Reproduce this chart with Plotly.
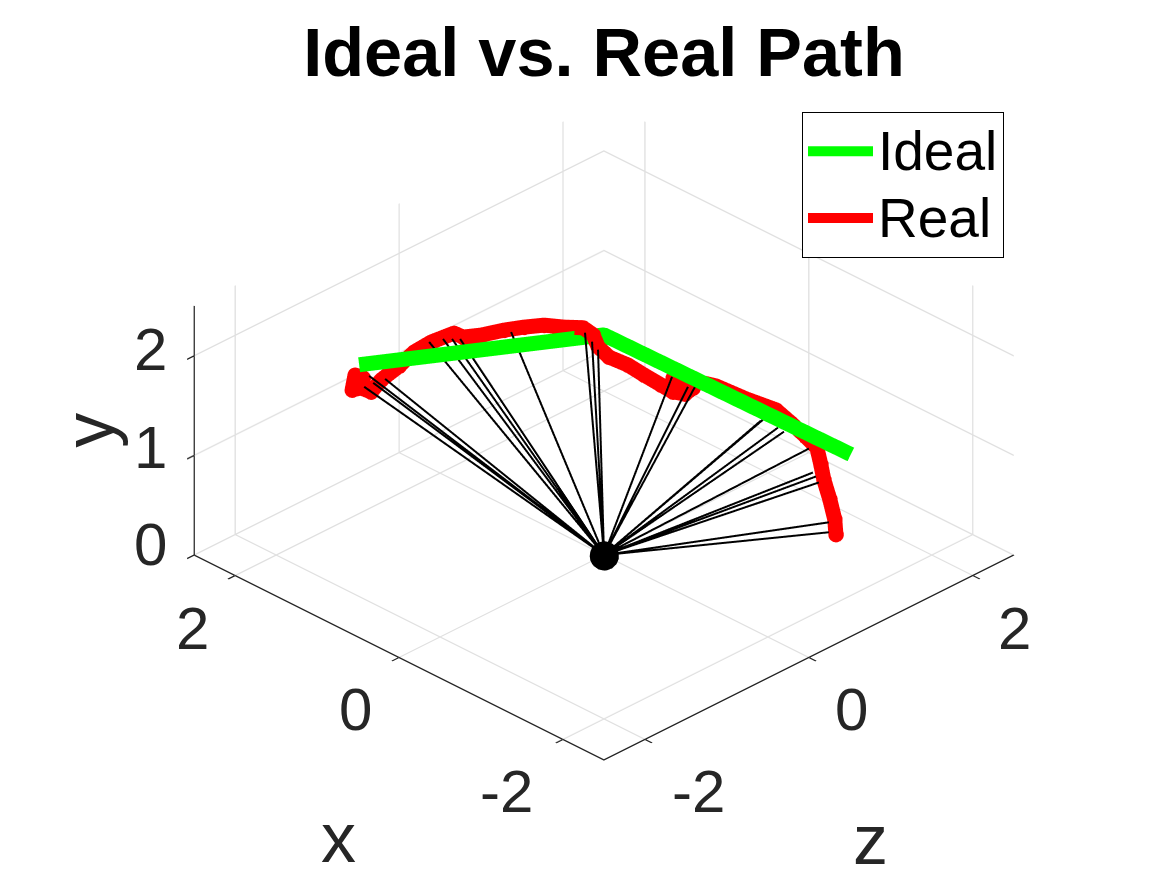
import plotly.graph_objects as go

ideal_x = [1.494, 0.0, -1.506]
ideal_y = [1.91, 2.21, 1.01]
ideal_z = [-1.494, 0.0, 1.506]

real_x = [-1.215,-1.208,-1.178,-1.141,-1.123,-1.099,-1.032,-.940,-.849,-.666,-.483,-.379,-.221,-.343,-.294,-.221,-.148,-.044,.054,.170,-.064,-.033,.028,.444,.566,.688,.810,.950,1.060,1.115,1.255,1.359,1.45,1.56,1.621,1.682,1.737,1.719,1.670]
real_y = [.043,.193,.393,.593,.743,.913,1.023,1.163,1.293,1.403,1.533,1.573,1.613,1.513,1.453,1.473,1.543,1.643,1.743,1.823,2.174,2.294,2.364,2.123,2.143,2.123,2.093,2.043,2.023,2.063,1.973,1.873,1.733,1.593,1.473,1.513,1.493,1.643,1.613]
real_z = [1.615,1.608,1.578,1.541,1.523,1.499,1.432,1.340,1.249,1.066,.883,.779,.621,.743,.694,.621,.548,.444,.346,.230,-.137,-.167,-.228,-.044,-.166,-.288,-.410,-.550,-.660,-.715,-.855,-.959,-1.05,-1.16,-1.221,-1.282,-1.337,-1.319,-1.270]

tip_x = [1.613,1.558,1.583,1.486,1.217,1.132,1.077,1.028,.717,-.034,-.077,-.114,-.265,-.362,-.405,-.807,-.820,-.911,-.948,-1.10,-1.125,-1.143,-1.161,-1.222,-1.222]
tip_y = [1.565,1.605,1.675,1.645,2.015,2.045,2.045,2.045,2.115,2.355,2.265,2.185,1.665,1.565,1.565,1.225,1.235,1.155,1.115,.945,.705,.665,.605,.205,.105]
tip_z = [-1.313,-1.258,-1.283,-1.186,-.917,-.832,-.777,-.728,-.417,-.266,-.223,-.187,.565,.662,.705,1.107,1.120,1.211,1.248,1.40,1.425,1.443,1.461,1.522,1.522]

# joint position drawn as the black dot
joint_x, joint_y, joint_z = [-0.15], [0.12], [-0.15]

x_ticks = [-2, 0, 2]
y_ticks = [0, 1, 2]
z_ticks = [-2, 0, 2]

FONT = "Liberation Sans"
INK = "#262626"
GRID = "#e0e0e0"

fig = go.Figure()

# Scene axes: scene x = data z, scene y = data x, scene z = data y (data y points up)
spoke_sx, spoke_sy, spoke_sz = [], [], []
for tx, ty, tz in zip(tip_x, tip_y, tip_z):
    spoke_sx += [0, tz, None]
    spoke_sy += [0, tx, None]
    spoke_sz += [0, ty, None]
fig.add_trace(go.Scatter3d(x=spoke_sx, y=spoke_sy, z=spoke_sz, mode="lines",
                           line=dict(color="black", width=4), showlegend=False, hoverinfo="skip"))
fig.add_trace(go.Scatter3d(x=joint_z, y=joint_x, z=joint_y, mode="markers",
                           marker=dict(color="black", size=17), showlegend=False, hoverinfo="skip"))
fig.add_trace(go.Scatter3d(x=ideal_z, y=ideal_x, z=ideal_y, mode="lines",
                           name='<span style="font-size:55px">Ideal</span>',
                           line=dict(color="#00ff00", width=30)))
fig.add_trace(go.Scatter3d(x=real_z, y=real_x, z=real_y, mode="lines",
                           name='<span style="font-size:55px">Real</span>',
                           line=dict(color="#ff0000", width=30)))
fig.add_trace(go.Scatter3d(x=real_z, y=real_x, z=real_y, mode="markers",
                           marker=dict(color="#ff0000", size=9), showlegend=False, hoverinfo="skip"))

def axis(rng, ticks):
    return dict(title=dict(text=""), range=rng, tickvals=ticks, showticklabels=False,
                showgrid=True, gridcolor=GRID, gridwidth=3,
                showbackground=False, showline=True, linecolor=INK, linewidth=3,
                zeroline=False, showspikes=False, ticks="outside", ticklen=10,
                tickcolor=INK, tickwidth=3)

def label(sx, sy, sz, text, dx, dy, size=60, angle=0):
    return dict(x=sx, y=sy, z=sz, text=text, showarrow=False, xshift=dx, yshift=dy, textangle=angle,
                xanchor="center", yanchor="middle", font=dict(family=FONT, size=size, color=INK))

notes = []
for v, dx, dy in zip(x_ticks, [-57, -44, -43], [-52, -52, -53]):
    notes.append(label(-2.5, v, 0, str(v), dx, dy))
for v, dx, dy in zip(z_ticks, [54, 43, 42], [-52, -52, -53]):
    notes.append(label(v, -2.5, 0, str(v), dx, dy))
for v, dy in zip(y_ticks, [11, 8, 6]):
    notes.append(label(-2.5, 2.5, v, str(v), -44, dy))
notes.append(label(-2.5, 0, 0, "x", -61, -181, size=70))
notes.append(label(0, -2.5, 0, "z", 62, -183, size=70))
notes.append(label(-2.5, 2.5, 1.25, "y", -106, 0, size=70, angle=-90))

fig.update_layout(
    width=1167, height=875, paper_bgcolor="white",
    margin=dict(l=0, r=0, t=0, b=0),
    font=dict(family=FONT, color="black"),
    title=dict(text="<b>Ideal vs. Real Path</b>", font=dict(family=FONT, size=68.5, color="black"),
               x=604/1167, xanchor="center", y=1-52/875, yanchor="middle"),
    legend=dict(x=802/1167, y=1-112/875, xanchor="left", yanchor="top",
                bgcolor="white", bordercolor="black", borderwidth=1,
                font=dict(family=FONT, size=49, color="black"), itemwidth=65,
                entrywidth=168, entrywidthmode="pixels"),
    scene=dict(
        domain=dict(x=[0.0351, 1], y=[0.016, 1]),
        xaxis=axis([-2.5, 2.5], z_ticks),
        yaxis=axis([-2.5, 2.5], x_ticks),
        zaxis=axis([0, 2.5], y_ticks),
        annotations=notes,
        aspectmode="manual", aspectratio=dict(x=1.346, y=1.346, z=0.668),
        camera=dict(projection=dict(type="orthographic"),
                    center=dict(x=0, y=0, z=0),
                    up=dict(x=0, y=0, z=1),
                    eye=dict(x=-0.921, y=-0.921, z=0.752)),
    ),
)
fig.write_html("out.html", post_script="document.body.style.margin='0';",
               config={"displayModeBar": False})
